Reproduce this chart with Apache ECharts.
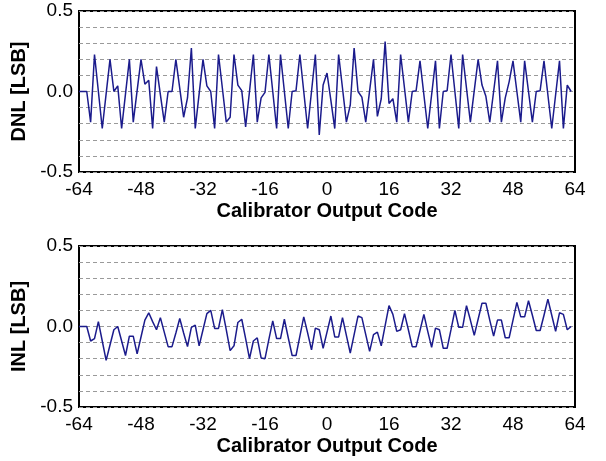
<!DOCTYPE html>
<html>
<head>
<meta charset="utf-8">
<script src="https://cdn.jsdelivr.net/npm/echarts@6/dist/echarts.min.js"></script>
<style>
html,body{margin:0;padding:0;background:#fff;}
#chart{width:606px;height:461px;}
</style>
</head>
<body>
<div id="chart"></div>
<script>
// x: calibrator output codes -64 .. 63
const codeStart = -64;
const xTicks = [-64, -48, -32, -16, 0, 16, 32, 48, 64];
const yLabels = [-0.5, 0.0, 0.5];

const dnl = [
  0, 0, 0, -0.19, 0.23, 0.0, -0.23, -0.015, 0.20, 0.0, 0.035, -0.23, -0.015, 0.20, -0.19, 0.005,
  0.20, 0.045, 0.07, -0.23, 0.155, -0.02, -0.19, 0.0, 0.0, 0.20, 0.02, -0.16, -0.04, 0.27, -0.23, -0.015,
  0.20, 0.035, 0.0, -0.23, 0.23, 0.02, -0.19, -0.16, 0.23, 0.04, 0.005, -0.22, 0.0, 0.23, -0.19, -0.04,
  -0.005, 0.23, 0.0, -0.23, 0.23, 0.0, -0.23, 0.0, 0.005, 0.23, 0.0, -0.23, 0.0, 0.23, -0.27, 0.04,
  0.115, -0.055, -0.23, 0.23, 0.02, -0.19, -0.085, 0.27, 0.0, -0.035, -0.19, 0.005, 0.2, -0.155, -0.045, 0.31,
  -0.075, -0.045, -0.19, 0.23, 0.02, -0.19, 0.0, 0.005, 0.19, -0.02, -0.23, -0.02, 0.19, -0.23, 0.0, 0.005,
  0.23, 0.0, -0.23, 0.23, 0.02, -0.19, 0.005, 0.2, 0.04, -0.03, -0.19, 0.0, 0.19, -0.19, -0.04, 0.06,
  0.19, 0.0, -0.19, 0.19, 0.0, -0.19, 0.0, 0.005, 0.19, -0.02, -0.23, -0.02, 0.19, -0.23, 0.04, 0.0
];

const inl = [
  0, 0, 0, -0.09, -0.075, 0.03, -0.09, -0.21, -0.115, -0.02, 0.0, -0.09, -0.18, -0.06, -0.06, -0.17,
  -0.065, 0.04, 0.085, 0.03, -0.02, 0.055, -0.035, -0.125, -0.125, -0.04, 0.05, -0.04, -0.125, -0.005, 0.008, -0.12,
  -0.02, 0.08, 0.1, -0.012, -0.012, 0.105, -0.02, -0.15, -0.12, 0.025, 0.045, -0.075, -0.2, -0.09, -0.07, -0.195,
  -0.2, -0.08, 0.035, -0.075, -0.075, 0.045, -0.07, -0.18, -0.18, -0.06, 0.06, -0.04, -0.145, -0.01, -0.02, -0.135,
  -0.035, 0.065, -0.065, -0.065, 0.055, -0.055, -0.165, -0.05, 0.065, 0.055, -0.05, -0.155, -0.05, -0.035, -0.12, 0.005,
  0.13, 0.075, -0.03, -0.02, 0.08, -0.02, -0.125, -0.125, -0.025, 0.075, -0.03, -0.13, -0.01, -0.02, -0.135, -0.135,
  -0.02, 0.1, -0.005, -0.005, 0.13, 0.04, -0.055, 0.045, 0.145, 0.145, 0.04, -0.06, 0.04, 0.04, -0.07, -0.07,
  0.04, 0.15, 0.06, 0.06, 0.16, 0.07, -0.025, -0.025, 0.07, 0.17, 0.07, -0.03, 0.085, 0.075, -0.02, 0.0
];

const xTitle = 'Calibrator Output Code';
const yTitles = ['DNL [LSB]', 'INL [LSB]'];

function pairs(vals) { return vals.map((v, i) => [codeStart + i, v]); }

const FONT = '"Liberation Sans", Arial, sans-serif';
const lineColor = '#1b1b8c';

function xAxisFor(gi) {
  return {
    type: 'value', gridIndex: gi, min: -64, max: 64, interval: 16,
    name: xTitle, nameLocation: 'middle', nameGap: 29,
    nameTextStyle: { fontFamily: FONT, fontSize: 20, fontWeight: 'bold', color: '#000' },
    axisLine: { show: false }, axisTick: { show: false },
    splitLine: { show: false },
    axisLabel: { fontFamily: FONT, fontSize: 19, color: '#000', margin: 8,
      showMinLabel: true, showMaxLabel: true,
      formatter: v => xTicks.indexOf(v) >= 0 ? String(v) : '' }
  };
}
function yAxisFor(gi) {
  return {
    type: 'value', gridIndex: gi, min: -0.5, max: 0.5, interval: 0.1,
    name: yTitles[gi], nameLocation: 'middle', nameGap: 45, nameRotate: 90,
    nameTextStyle: { fontFamily: FONT, fontSize: 20, fontWeight: 'bold', color: '#000' },
    axisLine: { show: false }, axisTick: { show: false },
    splitLine: { show: true, lineStyle: { color: '#9a9a9a', width: 1, type: [4, 3] } },
    axisLabel: { fontFamily: FONT, fontSize: 19, color: '#000', margin: 6,
      showMinLabel: true, showMaxLabel: true,
      formatter: v => {
        const r = Math.round(v * 10) / 10;
        return yLabels.some(l => Math.abs(l - r) < 1e-9 && Math.abs(v - l) < 1e-6) ? r.toFixed(1) : '';
      } }
  };
}

const chart = echarts.init(document.getElementById('chart'), null, { renderer: 'canvas' });
chart.setOption({
  animation: false,
  backgroundColor: '#fff',
  grid: [
    { left: 79, top: 11, width: 496, height: 161, show: true, borderColor: '#000', borderWidth: 2, backgroundColor: 'transparent' },
    { left: 79, top: 246, width: 496, height: 161, show: true, borderColor: '#000', borderWidth: 2, backgroundColor: 'transparent' }
  ],
  xAxis: [xAxisFor(0), xAxisFor(1)],
  yAxis: [yAxisFor(0), yAxisFor(1)],
  series: [
    { type: 'line', xAxisIndex: 0, yAxisIndex: 0, data: pairs(dnl), showSymbol: false,
      lineStyle: { color: lineColor, width: 1.5 }, z: 3 },
    { type: 'line', xAxisIndex: 1, yAxisIndex: 1, data: pairs(inl), showSymbol: false,
      lineStyle: { color: lineColor, width: 1.5 }, z: 3 }
  ]
});
</script>
</body>
</html>
